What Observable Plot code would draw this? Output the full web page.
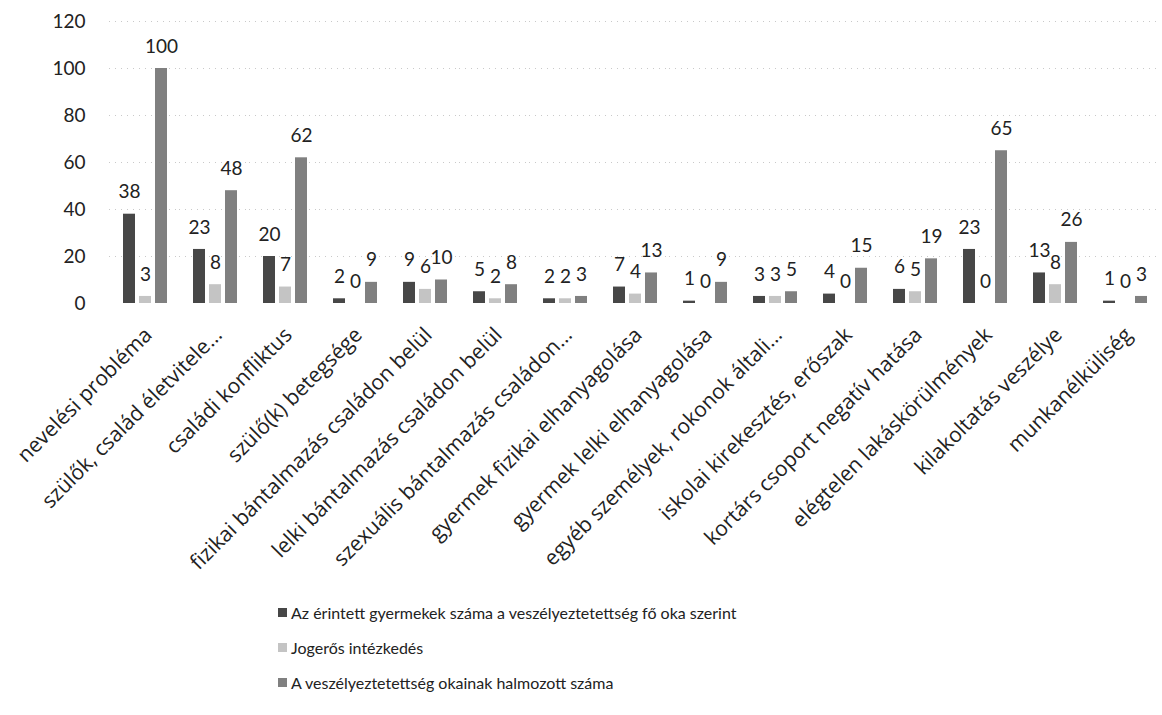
<!DOCTYPE html>
<html>
<head>
<meta charset="utf-8">
<script src="https://cdn.jsdelivr.net/npm/d3@7"></script>
<script src="https://cdn.jsdelivr.net/npm/@observablehq/plot@0.6"></script>
<style>
  html, body { margin: 0; padding: 0; background: #fff; }
  body { font-family: Lato, "Open Sans", sans-serif; width: 1162px; height: 715px; position: relative; overflow: hidden; }
  #chart svg { display: block; }
  #legend { position: absolute; left: 278px; top: 595px; font-size: 16px; color: #222; }
  #legend .item { height: 35px; line-height: 35px; display: flex; align-items: center; white-space: nowrap; }
  #legend .sw { width: 9px; height: 9px; margin-right: 4px; display: inline-block; }
</style>
</head>
<body>
<div id="chart"></div>
<div id="legend"></div>
<script>
const categories = [
  "nevelési probléma",
  "szülők, család életvitele…",
  "családi konfliktus",
  "szülő(k) betegsége",
  "fizikai bántalmazás családon belül",
  "lelki bántalmazás családon belül",
  "szexuális bántalmazás családon…",
  "gyermek fizikai elhanyagolása",
  "gyermek lelki elhanyagolása",
  "egyéb személyek, rokonok általi…",
  "iskolai kirekesztés, erőszak",
  "kortárs csoport negatív hatása",
  "elégtelen lakáskörülmények",
  "kilakoltatás veszélye",
  "munkanélküliség"
];
const seriesNames = [
  "Az érintett gyermekek száma a veszélyeztetettség fő oka szerint",
  "Jogerős intézkedés",
  "A veszélyeztetettség okainak halmozott száma"
];
const affectedChildren = [38, 23, 20, 2, 9, 5, 2, 7, 1, 3, 4, 6, 23, 13, 1];
const legalMeasures    = [3, 8, 7, 0, 6, 2, 2, 4, 0, 3, 0, 5, 0, 8, 0];
const cumulativeCauses = [100, 48, 62, 9, 10, 8, 3, 13, 9, 5, 15, 19, 65, 26, 3];
const yTicks = [0, 20, 40, 60, 80, 100, 120];
const seriesColors = ["#474747", "#c4c4c4", "#808080"];

const seriesValues = [affectedChildren, legalMeasures, cumulativeCauses];
const rows = [];
categories.forEach((cat, i) => {
  seriesNames.forEach((s, j) => {
    rows.push({cat, series: s, value: seriesValues[j][i]});
  });
});

const chart = Plot.plot({
  width: 1162,
  height: 580,
  marginLeft: 108,
  marginRight: 0,
  marginTop: 21,
  marginBottom: 277,
  style: {fontFamily: "Lato, 'Open Sans', sans-serif", color: "#222", background: "#fff"},
  fx: {domain: categories, paddingInner: 0.37, paddingOuter: 0.185, label: null},
  x: {domain: seriesNames, paddingInner: 0.25, paddingOuter: 0, axis: null},
  y: {domain: [0, 120], label: null},
  color: {domain: seriesNames, range: seriesColors},
  marks: [
    Plot.gridY(yTicks.filter(d => d > 0), {stroke: "#888", strokeOpacity: 0.45, strokeDasharray: "1,5", insetLeft: -14, insetRight: -14}),
    Plot.barY(rows, {fx: "cat", x: "series", y: "value", fill: "series"}),
    Plot.text(rows, {fx: "cat", x: "series", y: "value", text: d => String(d.value), dy: -22, fontSize: 19, fill: "#222"}),
    Plot.axisY({ticks: yTicks, tickSize: 0, tickPadding: 38, fontSize: 19, label: null}),
    Plot.axisFx({anchor: "bottom", tickRotate: -45, tickSize: 0, tickPadding: 28, dx: 3, fontSize: 21, fontFamily: "'Open Sans', Lato, sans-serif", label: null})
  ]
});
document.getElementById("chart").appendChild(chart);

const legend = document.getElementById("legend");
seriesNames.forEach((s, j) => {
  const item = document.createElement("div");
  item.className = "item";
  const sw = document.createElement("span");
  sw.className = "sw";
  sw.style.background = seriesColors[j];
  const t = document.createElement("span");
  t.textContent = s;
  item.appendChild(sw);
  item.appendChild(t);
  legend.appendChild(item);
});
</script>
</body>
</html>
